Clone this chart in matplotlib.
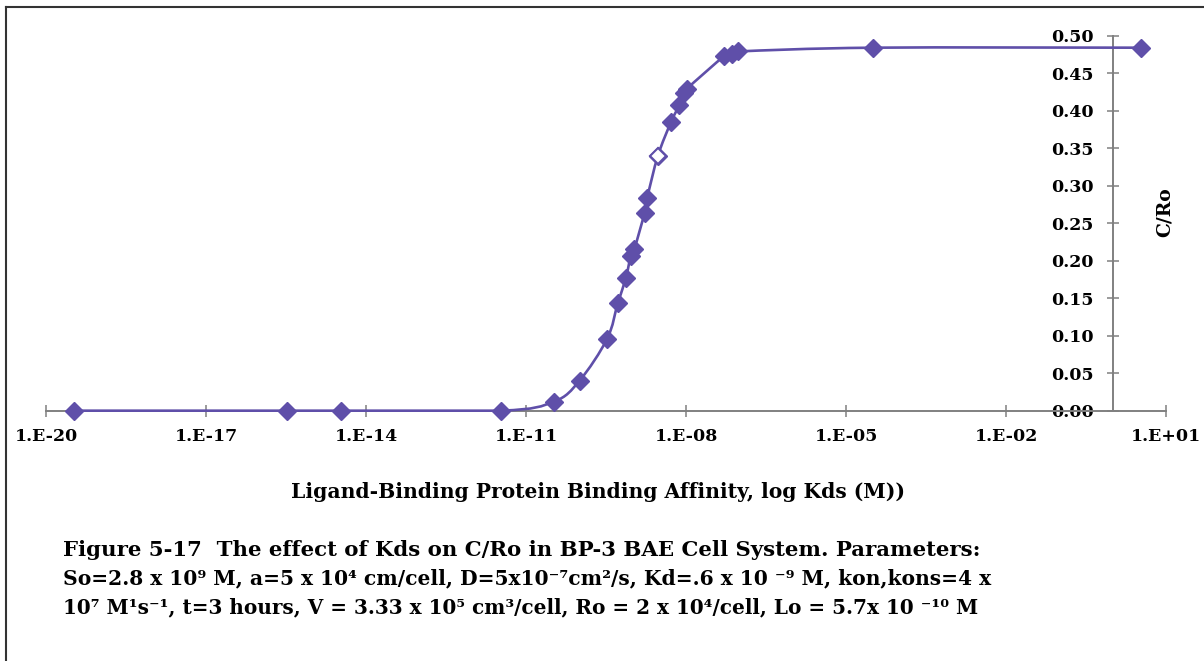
import numpy as np
import matplotlib
matplotlib.use("Agg")
import matplotlib.pyplot as plt
from matplotlib.path import Path
from matplotlib.patches import PathPatch
from matplotlib.lines import Line2D
from matplotlib.ticker import NullLocator

# Kds (M) and resulting C/Ro
kds = [3.3e-20, 3.3e-16, 3.3e-15, 3.4e-12, 3.3e-11, 1.0e-10, 3.3e-10, 5.2e-10,
       7.4e-10, 9.1e-10, 1.07e-9, 1.66e-9, 1.86e-9, 2.95e-9, 5.2e-9, 7.4e-9,
       9.1e-9, 1.02e-8, 5.2e-8, 7.1e-8, 9.5e-8, 3.2e-5, 3.4]
c_ro = [0.0, 0.0, 0.0, 0.0, 0.012, 0.040, 0.096, 0.143,
        0.177, 0.206, 0.216, 0.264, 0.284, 0.340, 0.385, 0.407,
        0.423, 0.429, 0.473, 0.476, 0.479, 0.484, 0.484]
open_point = 13  # the one hollow marker

x_ticks = [1e-20, 1e-17, 1e-14, 1e-11, 1e-8, 1e-5, 1e-2, 1e1]
x_tick_labels = ["1.E-20", "1.E-17", "1.E-14", "1.E-11", "1.E-08", "1.E-05", "1.E-02", "1.E+01"]
y_ticks = [0.0, 0.05, 0.10, 0.15, 0.20, 0.25, 0.30, 0.35, 0.40, 0.45, 0.50]
y_tick_labels = ["%.2f" % v for v in y_ticks]

x_label = "Ligand-Binding Protein Binding Affinity, log Kds (M))"
y_label = "C/Ro"
caption = [
    "Figure 5-17  The effect of Kds on C/Ro in BP-3 BAE Cell System. Parameters:",
    "So=2.8 x 10\u2079 M, a=5 x 10\u2074 cm/cell, D=5x10\u207b\u2077cm\u00b2/s, Kd=.6 x 10 \u207b\u2079 M, kon,kons=4 x",
    "10\u2077 M\u00b9s\u207b\u00b9, t=3 hours, V = 3.33 x 10\u2075 cm\u00b3/cell, Ro = 2 x 10\u2074/cell, Lo = 5.7x 10 \u207b\u00b9\u2070 M",
]
caption_sizes = [15.3, 14.6, 14.45]

PURPLE = "#5f4fa9"
AXIS_GRAY = "#808080"
plt.rcParams["font.family"] = ["DejaVu Serif"]
plt.rcParams["font.weight"] = "bold"


def smooth_path(xs, ys):
    """Excel-like smoothed line: cubic segments built in log-x space."""
    lx = np.log10(xs)
    y = np.asarray(ys, dtype=float)
    n = len(lx)
    verts = [(xs[0], y[0])]
    codes = [Path.MOVETO]
    for i in range(n - 1):
        a = i - 1 if i > 0 else i
        b = i + 2 if i + 2 < n else i + 1
        c1 = (lx[i] + (lx[i + 1] - lx[a]) / 6, y[i] + (y[i + 1] - y[a]) / 6)
        c2 = (lx[i + 1] - (lx[b] - lx[i]) / 6, y[i + 1] - (y[b] - y[i]) / 6)
        # keep the flat run on the axis from dipping below zero
        c1 = (c1[0], max(c1[1], 0.0))
        c2 = (c2[0], max(c2[1], 0.0))
        verts += [(10 ** c1[0], c1[1]), (10 ** c2[0], c2[1]), (xs[i + 1], y[i + 1])]
        codes += [Path.CURVE4] * 3
    return Path(verts, codes)


fig = plt.figure(figsize=(12.04, 6.61), dpi=100)
ax = fig.add_axes([0.0385, 0.3787, 0.930, 0.5673])

ax.add_patch(PathPatch(smooth_path(kds, c_ro), facecolor="none", edgecolor=PURPLE,
                       lw=1.9, clip_on=False, zorder=3))
ax.plot(kds, c_ro, ls="none", marker="D", ms=9, color=PURPLE, mec=PURPLE, mew=1,
        clip_on=False, zorder=4)
ax.plot(kds[open_point], c_ro[open_point], ls="none", marker="D", ms=8.5,
        mfc="white", mec=PURPLE, mew=1.5, clip_on=False, zorder=5)

ax.set_xscale("log")
ax.set_xlim(1e-20, 1e1)
ax.set_ylim(0, 0.5)
ax.set_xticks(x_ticks)
ax.set_xticklabels(x_tick_labels)
ax.xaxis.set_minor_locator(NullLocator())
ax.set_yticks(y_ticks)
ax.set_yticklabels(y_tick_labels)

for side in ["top", "right"]:
    ax.spines[side].set_visible(False)
ax.spines["left"].set_position(("data", 1))
for side in ["left", "bottom"]:
    ax.spines[side].set_color(AXIS_GRAY)
    ax.spines[side].set_linewidth(1.4)
ax.tick_params(direction="inout", length=8.5, width=1.1, color=AXIS_GRAY,
               labelsize=12.5, labelcolor="black")
ax.tick_params(axis="y", pad=9.5)
ax.tick_params(axis="x", pad=8.5)
ax.patch.set_visible(False)

fig.text(1165 / 1204, 1 - 212 / 661, y_label, rotation=90, ha="center", va="center",
         fontsize=13.5, fontweight="bold")
fig.text(598 / 1204, 1 - 492 / 661, x_label, ha="center", va="center",
         fontsize=14.6, fontweight="bold")
for i, line in enumerate(caption):
    fig.text(63 / 1204, 1 - (550 + 28.7 * i) / 661, line, ha="left", va="center",
             fontsize=caption_sizes[i], fontweight="bold")

# page frame: top and left edges only
fig.add_artist(Line2D([6 / 1204, 1], [1 - 7 / 661] * 2, transform=fig.transFigure,
                      color="#333333", lw=1.5))
fig.add_artist(Line2D([6 / 1204] * 2, [1 - 7 / 661, 0], transform=fig.transFigure,
                      color="#333333", lw=1.5))

fig.savefig("out.png", dpi=100)
